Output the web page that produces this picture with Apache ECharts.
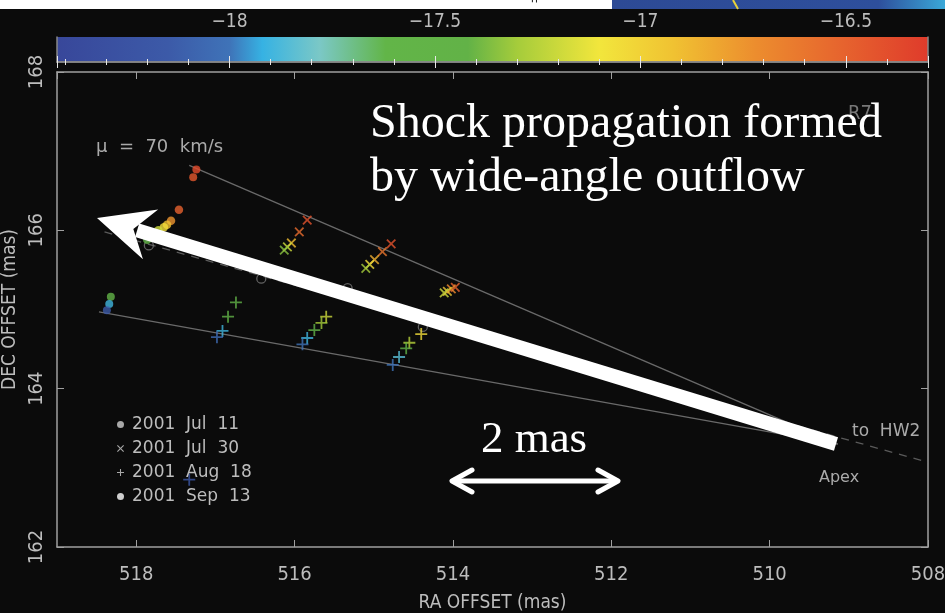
<!DOCTYPE html>
<html><head><meta charset="utf-8">
<script src="https://cdn.jsdelivr.net/npm/echarts@6/dist/echarts.min.js"></script>
<style>html,body{margin:0;padding:0;background:#0b0b0b;}#c{width:945px;height:613px;}</style>
</head><body><div id="c"></div>
<script>
// ---- axis ranges / ticks ----
const raRange = [508, 519];      // RA OFFSET (mas), drawn inverted
const decRange = [162, 168];     // DEC OFFSET (mas)
const axisInterval = 2;
const cbRange = [-18.42, -16.30];   // colour bar (velocity) range
// colour bar stops
const cbStopValues = [-18.42, -18.15, -18.0, -17.92, -17.78, -17.62, -17.42, -17.30, -17.10, -16.92, -16.72, -16.50, -16.30];
const cbStopColors = ['#38479a', '#3c5aa8', '#3f73b8', '#36b2e3', '#7bc8c6', '#62b548', '#62b247', '#a5cc3b', '#f2e63c', '#f0c232', '#ec8d2e', '#e6622e', '#df3b2b'];

// ---- data: [RA, DEC, value] ----
const jul11 = [[517.24,166.77,-16.38],[517.28,166.67,-16.45],[518.32,165.16,-17.5],[518.34,165.07,-17.9],[518.37,164.99,-18.15]];
const jul30 = [[515.84,166.13,-16.42],[515.94,165.98,-16.55],[516.04,165.84,-16.9],[516.09,165.79,-17.2],[516.13,165.75,-17.35],
               [514.78,165.83,-16.42],[514.89,165.73,-16.6],[514.99,165.63,-16.85],[515.05,165.57,-17.05],[515.10,165.52,-17.3],
               [513.97,165.28,-16.5],[514.02,165.26,-16.7],[514.07,165.23,-16.95],[514.11,165.21,-17.2]];
const aug18 = [[516.74,165.09,-17.45],[516.84,164.91,-17.5],[516.91,164.73,-17.9],[516.98,164.65,-18.05],
               [515.60,164.91,-17.2],[515.66,164.83,-17.3],[515.75,164.74,-17.5],[515.84,164.64,-17.9],[515.90,164.56,-18.0],
               [514.40,164.69,-17.05],[514.55,164.58,-17.25],[514.59,164.51,-17.45],[514.68,164.40,-17.85],[514.76,164.30,-18.0],
               [517.33,162.85,-18.2]];
const sep13 = [[517.46,166.26,-16.5],[517.56,166.12,-16.75],[517.61,166.07,-16.92],[517.65,166.04,-17.05],[517.72,166.0,-17.2],[517.86,165.88,-17.5]];
const refCircles = [[517.84,165.81],[516.42,165.39],[515.33,165.27],[514.38,164.78]];
const upperEdge = [[517.33,166.82],[509.14,163.30]];
const lowerEdge = [[518.47,164.97],[509.14,163.30]];
const hw2Dir = [[518.40,165.98],[508.0,163.07]];

function hex2rgb(h){return [parseInt(h.slice(1,3),16),parseInt(h.slice(3,5),16),parseInt(h.slice(5,7),16)];}
function colorAt(v){
  if (v <= cbStopValues[0]) return cbStopColors[0];
  for (let i=1;i<cbStopValues.length;i++){
    if (v <= cbStopValues[i]){
      const t=(v-cbStopValues[i-1])/(cbStopValues[i]-cbStopValues[i-1]);
      const a=hex2rgb(cbStopColors[i-1]), b=hex2rgb(cbStopColors[i]);
      return 'rgb('+a.map((c,k)=>Math.round(c+(b[k]-c)*t)).join(',')+')';
    }
  }
  return cbStopColors[cbStopColors.length-1];
}
const plusPath = 'path://M8.5,0h3v8.5h8.5v3h-8.5v8.5h-3v-8.5h-8.5v-3h8.5z';
const FONT = "'Liberation Sans Narrow','DejaVu Sans Condensed',sans-serif";
const LBL = '#bdbdbd', AX = '#a0a0a0';

const chart = echarts.init(document.getElementById('c'), null, {renderer:'canvas'});

function pt(d){ return d.map(p=>({value:p, itemStyle:{color:colorAt(p[2])}})); }

// arrow geometry (annotation)
const tail=[836,444], tip=[97,218];
const L=Math.hypot(tip[0]-tail[0],tip[1]-tail[1]);
const d=[(tip[0]-tail[0])/L,(tip[1]-tail[1])/L], n=[-d[1],d[0]];
const back=(k)=>[tip[0]-k*d[0],tip[1]-k*d[1]];
const hb=back(56), notch=back(38), neck=back(42);
const w1=[hb[0]+26*n[0],hb[1]+26*n[1]], w2=[hb[0]-26*n[0],hb[1]-26*n[1]];

const option = {
  backgroundColor:'#0b0b0b',
  animation:false,
  grid:[
    {left:57,right:17,top:72,bottom:66,outerBoundsMode:'none',containLabel:false},
    {left:57,right:17,top:37,height:25,outerBoundsMode:'none',containLabel:false}
  ],
  xAxis:[
    {gridIndex:0,type:'value',min:raRange[0],max:raRange[1],interval:axisInterval,inverse:true,position:'bottom',
     name:'RA OFFSET (mas)',nameLocation:'middle',nameGap:47,nameTextStyle:{color:LBL,fontSize:19,fontFamily:FONT},
     axisLine:{lineStyle:{color:AX,width:1.5}},axisTick:{inside:true,length:7,lineStyle:{color:AX}},
     axisLabel:{color:LBL,fontSize:20,fontFamily:FONT,margin:18,showMaxLabel:false},splitLine:{show:false}},
    {gridIndex:0,type:'value',min:raRange[0],max:raRange[1],interval:axisInterval,inverse:true,position:'top',
     axisLine:{lineStyle:{color:AX,width:1.5}},axisTick:{inside:true,length:7,lineStyle:{color:AX}},
     axisLabel:{show:false},splitLine:{show:false}},
    {gridIndex:1,type:'value',min:cbRange[0],max:cbRange[1],position:'top',z:10,
     axisLine:{lineStyle:{color:'#888',width:1.5}},axisTick:{inside:true,length:6,lineStyle:{color:'#e8e8e8'}},
     minorTick:{show:true,splitNumber:5,length:3,lineStyle:{color:'#e8e8e8'}},
     axisLabel:{color:LBL,fontSize:19,fontFamily:FONT,margin:5,showMinLabel:false,showMaxLabel:false,
       formatter:v=>String(v).replace('-','\u2212')},splitLine:{show:false}},
    {gridIndex:1,type:'value',min:cbRange[0],max:cbRange[1],position:'bottom',z:10,
     axisLine:{lineStyle:{color:'#888',width:1.5}},axisTick:{inside:true,length:6,lineStyle:{color:'#e8e8e8'}},
     minorTick:{show:true,splitNumber:5,length:3,lineStyle:{color:'#e8e8e8'}},
     axisLabel:{show:false},splitLine:{show:false}}
  ],
  yAxis:[
    {gridIndex:0,type:'value',min:decRange[0],max:decRange[1],interval:axisInterval,position:'left',
     name:'DEC OFFSET (mas)',nameLocation:'middle',nameGap:34,nameRotate:90,nameTextStyle:{color:LBL,fontSize:19,fontFamily:FONT},
     axisLine:{lineStyle:{color:AX,width:1.5}},axisTick:{inside:true,length:7,lineStyle:{color:AX}},
     axisLabel:{color:LBL,fontSize:20,fontFamily:FONT,margin:10,rotate:90},splitLine:{show:false}},
    {gridIndex:0,type:'value',min:decRange[0],max:decRange[1],interval:axisInterval,position:'right',
     axisLine:{lineStyle:{color:AX,width:1.5}},axisTick:{inside:true,length:7,lineStyle:{color:AX}},
     axisLabel:{show:false},splitLine:{show:false}},
    {gridIndex:1,type:'value',min:0,max:1,position:'left',z:10,axisLine:{show:true,lineStyle:{color:'#888',width:1.5}},
     axisTick:{show:false},axisLabel:{show:false},splitLine:{show:false}},
    {gridIndex:1,type:'value',min:0,max:1,position:'right',z:10,axisLine:{show:true,lineStyle:{color:'#888',width:1.5}},
     axisTick:{show:false},axisLabel:{show:false},splitLine:{show:false}}
  ],
  legend:{
    orient:'vertical',left:112,top:411,itemWidth:7,itemHeight:7,itemGap:7,selectedMode:false,
    textStyle:{color:LBL,fontSize:17,fontFamily:"'DejaVu Sans',sans-serif",padding:[0,0,0,3]},
    formatter:nm=>nm.replace(/ /g,'  '),
    data:[
      {name:'2001 Jul 11',icon:'circle',itemStyle:{color:'#cfcfcf'}},
      {name:'2001 Jul 30',icon:'path://M2.5,0.4L10,7.9L17.5,0.4L19.6,2.5L12.1,10L19.6,17.5L17.5,19.6L10,12.1L2.5,19.6L0.4,17.5L7.9,10L0.4,2.5Z',itemStyle:{color:'#cfcfcf'}},
      {name:'2001 Aug 18',icon:plusPath,itemStyle:{color:'#cfcfcf'}},
      {name:'2001 Sep 13',icon:'circle',itemStyle:{color:'#ffffff'}}
    ]
  },
  series:[
    {type:'custom',name:'colorbar',xAxisIndex:2,yAxisIndex:2,z:1,silent:true,data:[[cbRange[0],cbRange[1]]],
     renderItem:(params,api)=>{
       const p0=api.coord([cbRange[0],0]), p1=api.coord([cbRange[1],1]);
       const span=cbRange[1]-cbRange[0];
       return {type:'rect',shape:{x:p0[0],y:p1[1],width:p1[0]-p0[0],height:p0[1]-p1[1]},
         style:{fill:new echarts.graphic.LinearGradient(0,0,1,0,cbStopValues.map((v,i)=>({offset:(v-cbRange[0])/span,color:cbStopColors[i]})))}};
     }},
    {type:'line',name:'upper',data:upperEdge,symbol:'none',lineStyle:{color:'#6a6a6a',width:1.3},z:1,silent:true},
    {type:'line',name:'lower',data:lowerEdge,symbol:'none',lineStyle:{color:'#6a6a6a',width:1.3},z:1,silent:true},
    {type:'line',name:'hw2',data:hw2Dir,symbol:'none',lineStyle:{color:'#5a5a5a',width:1.3,type:[8,7]},z:1,silent:true},
    {type:'scatter',name:'ref',data:refCircles,symbol:'circle',symbolSize:9,itemStyle:{color:'rgba(0,0,0,0)',borderColor:'#777',borderWidth:1.3},z:2},
    {type:'scatter',name:'2001 Jul 11',data:pt(jul11),symbol:'circle',symbolSize:8,z:3},
    {type:'scatter',name:'2001 Jul 30',data:pt(jul30),symbol:plusPath,symbolRotate:45,symbolSize:12,z:3},
    {type:'scatter',name:'2001 Aug 18',data:pt(aug18),symbol:plusPath,symbolSize:12,z:3},
    {type:'scatter',name:'2001 Sep 13',data:pt(sep13),symbol:'circle',symbolSize:8.5,z:3}
  ],
  graphic:[
    {type:'rect',shape:{x:0,y:0,width:612,height:9},style:{fill:'#ffffff'},z:100},
    {type:'rect',shape:{x:612,y:0,width:333,height:9},style:{fill:new echarts.graphic.LinearGradient(0,0,1,0,[{offset:0,color:'#2d4a95'},{offset:0.8,color:'#2e4f9c'},{offset:1,color:'#3aa8d8'}])},z:100},
    {type:'polyline',shape:{points:[[733,0],[738,9]]},style:{stroke:'#e8d23a',lineWidth:2},z:101},
    {type:'text',x:531,y:0,style:{text:'F',fill:'#222',fontSize:12,fontFamily:FONT,align:'center',verticalAlign:'middle'},rotation:-Math.PI/2,z:101},
    {type:'text',x:96,y:147,style:{text:'\u03bc  =  70  km/s',fill:'#aaaaaa',fontSize:18,fontFamily:"'DejaVu Sans',sans-serif",verticalAlign:'middle'},z:50},
    {type:'text',x:852,y:432,style:{text:'to  HW2',fill:'#aaaaaa',fontSize:17,fontFamily:"'DejaVu Sans',sans-serif",verticalAlign:'middle'},z:50},
    {type:'text',x:819,y:478,style:{text:'Apex',fill:'#aaaaaa',fontSize:16,fontFamily:"'DejaVu Sans',sans-serif",verticalAlign:'middle'},z:50},
    {type:'text',x:848,y:114,style:{text:'R7',fill:'#777',fontSize:20,fontFamily:FONT,verticalAlign:'middle'},z:50},
    {type:'polyline',shape:{points:[tail,neck]},style:{stroke:'#ffffff',lineWidth:14,lineCap:'butt'},z:60},
    {type:'polygon',shape:{points:[tip,w1,notch,w2]},style:{fill:'#ffffff'},z:60},
    {type:'text',x:370,y:124,style:{text:'Shock propagation formed',fill:'#ffffff',fontSize:48,fontFamily:"'Liberation Serif',serif",verticalAlign:'middle'},z:70},
    {type:'text',x:370,y:178,style:{text:'by wide-angle outflow',fill:'#ffffff',fontSize:48,fontFamily:"'Liberation Serif',serif",verticalAlign:'middle'},z:70},
    {type:'text',x:534,y:440,style:{text:'2 mas',fill:'#ffffff',fontSize:45,fontFamily:"'Liberation Serif',serif",align:'center',verticalAlign:'middle'},z:70},
    {type:'polyline',shape:{points:[[455,481],[616,481]]},style:{stroke:'#ffffff',lineWidth:5,lineCap:'round'},z:70},
    {type:'polyline',shape:{points:[[472,470],[452,481],[472,492]]},style:{stroke:'#ffffff',lineWidth:5,lineCap:'round',lineJoin:'round'},z:70},
    {type:'polyline',shape:{points:[[598,470],[618,481],[598,492]]},style:{stroke:'#ffffff',lineWidth:5,lineCap:'round',lineJoin:'round'},z:70}
  ]
};
chart.setOption(option);
</script></body></html>
